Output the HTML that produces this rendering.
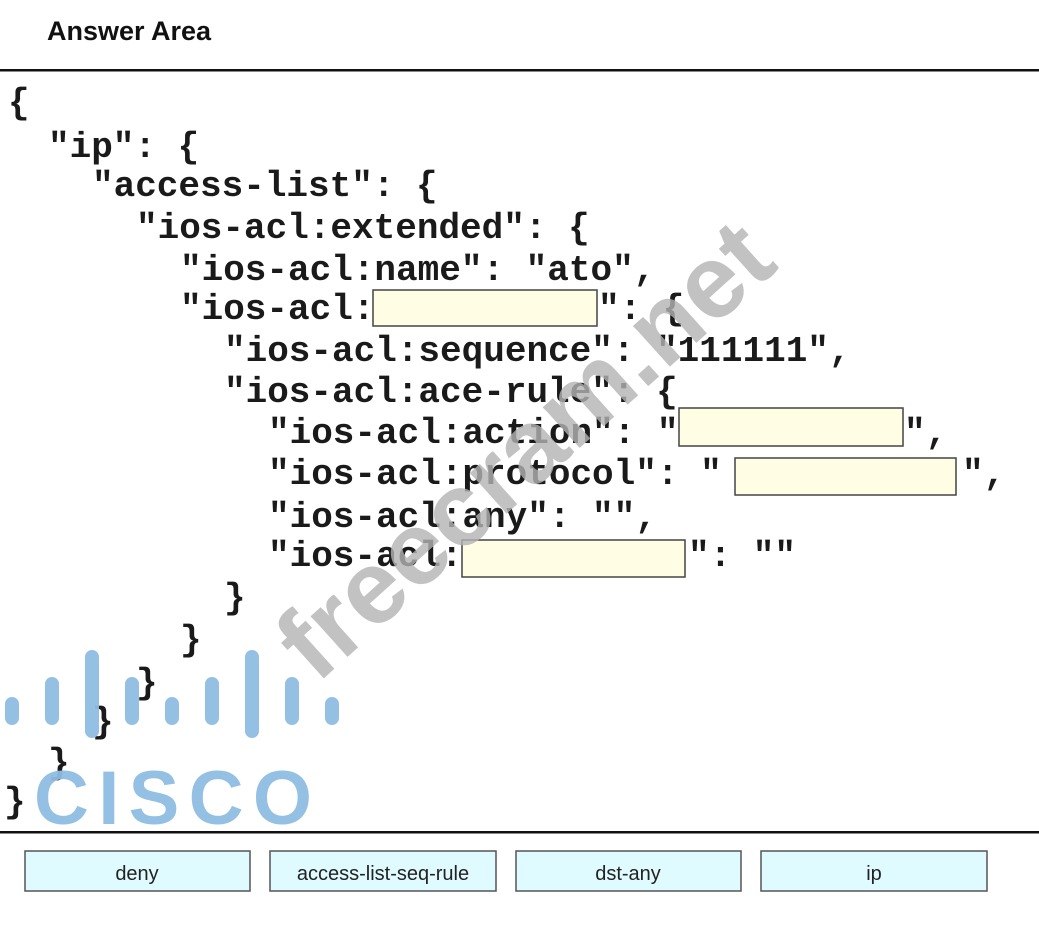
<!DOCTYPE html>
<html><head><meta charset="utf-8"><style>
html,body{margin:0;padding:0;background:#fff;width:1039px;height:927px;overflow:hidden}
svg{display:block}
.c{font-family:"Liberation Mono",monospace;font-weight:bold;font-size:36px;fill:#1a1a1a}
.b{font-family:"Liberation Sans",sans-serif;font-size:20px;fill:#222;text-anchor:middle}
</style></head><body>
<svg width="1039" height="927" viewBox="0 0 1039 927" xmlns="http://www.w3.org/2000/svg">
<text x="47" y="40" font-family="Liberation Sans, sans-serif" font-weight="bold" font-size="27" fill="#111">Answer Area</text>
<rect x="0" y="69" width="1039" height="2.5" fill="#111"/>
<rect x="0" y="831" width="1039" height="2.5" fill="#111"/>
<g xml:space="preserve">
<text class="c" x="8" y="113">{</text>
<text class="c" x="48" y="157">"ip": {</text>
<text class="c" x="92" y="196">"access-list": {</text>
<text class="c" x="136" y="238">"ios-acl:extended": {</text>
<text class="c" x="180" y="280">"ios-acl:name": "ato",</text>
<text class="c" x="180" y="319">"ios-acl:</text>
<text class="c" x="598" y="319">": {</text>
<text class="c" x="224" y="361">"ios-acl:sequence": "111111",</text>
<text class="c" x="224" y="402">"ios-acl:ace-rule": {</text>
<text class="c" x="268" y="443">"ios-acl:action": "</text>
<text class="c" x="904" y="443">",</text>
<text class="c" x="268" y="484">"ios-acl:protocol": "</text>
<text class="c" x="962" y="484">",</text>
<text class="c" x="268" y="527">"ios-acl:any": "",</text>
<text class="c" x="268" y="566">"ios-acl:</text>
<text class="c" x="688" y="566">": ""</text>
<text class="c" x="224" y="608">}</text>
<text class="c" x="180" y="650">}</text>
<text class="c" x="136" y="693">}</text>
<text class="c" x="92" y="732">}</text>
<text class="c" x="48" y="773">}</text>
<text class="c" x="4" y="812">}</text>
</g>
<g fill="#fffde3" stroke="#444" stroke-width="1.5">
<rect x="373" y="290" width="224" height="36"/>
<rect x="679" y="408" width="224" height="38"/>
<rect x="735" y="458" width="221" height="37"/>
<rect x="462" y="540" width="223" height="37"/>
</g>
<text x="525" y="485" transform="rotate(-42 525 450)" text-anchor="middle" font-family="Liberation Sans, sans-serif" font-weight="bold" font-size="104" fill="#b4b4b4" opacity="0.8">freecram.net</text>
<g stroke="#8fbde3" stroke-width="14" stroke-linecap="round" opacity="0.95">
<line x1="12" y1="704" x2="12" y2="718"/>
<line x1="52" y1="684" x2="52" y2="718"/>
<line x1="92" y1="657" x2="92" y2="731"/>
<line x1="132" y1="684" x2="132" y2="718"/>
<line x1="172" y1="704" x2="172" y2="718"/>
<line x1="212" y1="684" x2="212" y2="718"/>
<line x1="252" y1="657" x2="252" y2="731"/>
<line x1="292" y1="684" x2="292" y2="718"/>
<line x1="332" y1="704" x2="332" y2="718"/>
</g>
<text x="34" y="824" textLength="278" lengthAdjust="spacing" font-family="Liberation Sans, sans-serif" font-weight="bold" font-size="76" fill="#8fbde3" opacity="0.95">CISCO</text>
<g fill="#e0fbff" stroke="#555" stroke-width="1.5">
<rect x="25" y="851" width="225" height="40"/>
<rect x="270" y="851" width="226" height="40"/>
<rect x="516" y="851" width="225" height="40"/>
<rect x="761" y="851" width="226" height="40"/>
</g>
<text class="b" x="137" y="880">deny</text>
<text class="b" x="383" y="880">access-list-seq-rule</text>
<text class="b" x="628" y="880">dst-any</text>
<text class="b" x="874" y="880">ip</text>
</svg>
</body></html>
